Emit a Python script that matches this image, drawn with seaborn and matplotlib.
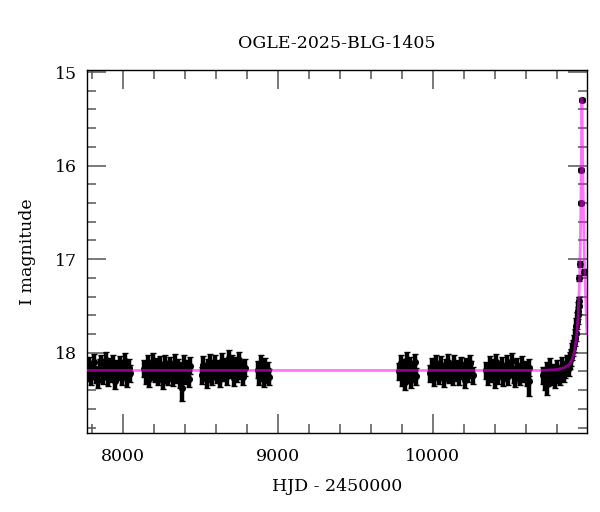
import matplotlib.pyplot as plt
import pandas as pd
import seaborn as sns
from matplotlib.ticker import MultipleLocator

# OGLE photometry (HJD - 2450000, I mag)
s1_t = [7772, 7783, 7794, 7805, 7816, 7827, 7838, 7849, 7860, 7871, 7882, 7893, 7904,
        7915, 7926, 7937, 7948, 7959, 7970, 7981, 7992, 8003, 8014, 8025, 8036, 8047]
s1_m = [18.21, 18.14, 18.26, 18.18, 18.10, 18.23, 18.29, 18.16, 18.12, 18.24, 18.19, 18.08, 18.27,
        18.15, 18.22, 18.11, 18.30, 18.17, 18.20, 18.13, 18.25, 18.18, 18.09, 18.28, 18.16, 18.22]

s2_t = [8138, 8149, 8160, 8171, 8182, 8193, 8204, 8215, 8226, 8237, 8248, 8259, 8270, 8281,
        8292, 8303, 8314, 8325, 8336, 8347, 8358, 8369, 8380, 8391, 8402, 8413, 8424, 8436]
s2_m = [18.17, 18.24, 18.12, 18.28, 18.19, 18.09, 18.22, 18.15, 18.26, 18.13, 18.20, 18.30, 18.11, 18.18,
        18.25, 18.14, 18.21, 18.27, 18.10, 18.23, 18.16, 18.29, 18.19, 18.12, 18.24, 18.17, 18.28, 18.14]

s3_t = [8508, 8519, 8530, 8541, 8552, 8563, 8574, 8585, 8596, 8607, 8618, 8629, 8640,
        8651, 8662, 8673, 8684, 8695, 8706, 8717, 8728, 8739, 8750, 8761, 8772, 8790]
s3_m = [18.24, 18.13, 18.20, 18.29, 18.16, 18.10, 18.26, 18.19, 18.12, 18.23, 18.17, 18.28, 18.09,
        18.21, 18.15, 18.25, 18.06, 18.18, 18.11, 18.27, 18.14, 18.22, 18.08, 18.19, 18.26, 18.16]

s4_t = [8872, 8881, 8890, 8899, 8908, 8917, 8926, 8935, 8943]
s4_m = [18.18, 18.25, 18.12, 18.21, 18.28, 18.15, 18.23, 18.19, 18.26]

s5_t = [9782, 9792, 9802, 9812, 9822, 9832, 9842, 9852, 9862, 9872, 9882, 9890]
s5_m = [18.20, 18.11, 18.27, 18.16, 18.31, 18.08, 18.23, 18.14, 18.29, 18.18, 18.10, 18.25]

s6_t = [9985, 9996, 10007, 10018, 10029, 10040, 10051, 10062, 10073, 10084, 10095, 10106, 10117,
        10128, 10139, 10150, 10161, 10172, 10183, 10194, 10205, 10216, 10227, 10238, 10249, 10262]
s6_m = [18.22, 18.15, 18.27, 18.11, 18.19, 18.24, 18.13, 18.20, 18.28, 18.16, 18.10, 18.23, 18.18,
        18.26, 18.12, 18.21, 18.17, 18.25, 18.14, 18.19, 18.29, 18.15, 18.22, 18.11, 18.18, 18.24]

s7_t = [10345, 10356, 10367, 10378, 10389, 10400, 10411, 10422, 10433, 10444, 10455, 10466, 10477,
        10488, 10499, 10510, 10521, 10532, 10543, 10554, 10565, 10576, 10587, 10598, 10609, 10620]
s7_m = [18.19, 18.26, 18.13, 18.22, 18.16, 18.29, 18.10, 18.24, 18.18, 18.14, 18.27, 18.21, 18.12,
        18.25, 18.17, 18.09, 18.23, 18.28, 18.15, 18.20, 18.26, 18.13, 18.22, 18.18, 18.27, 18.16]

s8_t = [10712, 10723, 10734, 10745, 10756, 10767, 10778, 10789, 10800, 10811, 10822, 10833, 10844, 10855,
        10866, 10877, 10886, 10894, 10901, 10907, 10912, 10917, 10922, 10927, 10931, 10935, 10939, 10943]
s8_m = [18.24, 18.31, 18.19, 18.27, 18.15, 18.25, 18.21, 18.29, 18.17, 18.23, 18.26, 18.14, 18.22, 18.18,
        18.12, 18.16, 18.08, 18.05, 17.99, 17.95, 17.90, 17.84, 17.79, 17.72, 17.66, 17.60, 17.55, 17.50]

base_err = 0.09

# bright points near the peak
peak_t = [10945, 10946, 10950, 10955, 10958, 10962, 10976]
peak_m = [17.45, 17.20, 17.05, 16.40, 16.05, 15.30, 17.14]
peak_e = [0.04, 0.03, 0.03, 0.02, 0.02, 0.02, 0.03]

# a few faint points with big error bars
out_t = [8380, 10620, 10735]
out_m = [18.38, 18.30, 18.33]
out_e = [0.14, 0.16, 0.12]

# model curve
model_t = [7765, 10700, 10800, 10850, 10880, 10900, 10915, 10928, 10938, 10946, 10952, 10956,
           10959, 10961, 10962, 10963, 10965, 10968, 10972, 10978, 10985, 10995]
model_m = [18.19, 18.19, 18.18, 18.16, 18.13, 18.07, 17.98, 17.82, 17.60, 17.28, 16.85, 16.40,
           15.90, 15.50, 15.28, 15.33, 15.60, 16.00, 16.50, 16.95, 17.35, 17.80]

# build one table
parts = []
for t, m in [(s1_t, s1_m), (s2_t, s2_m), (s3_t, s3_m), (s4_t, s4_m),
             (s5_t, s5_m), (s6_t, s6_m), (s7_t, s7_m), (s8_t, s8_m)]:
    parts.append(pd.DataFrame({'t': t, 'm': m, 'e': base_err}))
parts.append(pd.DataFrame({'t': peak_t, 'm': peak_m, 'e': peak_e}))
parts.append(pd.DataFrame({'t': out_t, 'm': out_m, 'e': out_e}))
df = pd.concat(parts, ignore_index=True)

sns.set_style('ticks')
plt.rcParams['font.family'] = ['DejaVu Serif']
plt.rcParams['text.color'] = 'black'
plt.rcParams['axes.labelcolor'] = 'black'
plt.rcParams['xtick.labelcolor'] = 'black'
plt.rcParams['ytick.labelcolor'] = 'black'

fig = plt.figure(figsize=(6, 5.12), dpi=100)
ax = fig.add_axes([0.145, 0.154, 0.833, 0.709])

ax.errorbar(df['t'], df['m'], yerr=df['e'], fmt='none', ecolor='black',
            elinewidth=3.2, capsize=2.5, capthick=1.0, zorder=2)
sns.scatterplot(data=df, x='t', y='m', color='black', s=26, linewidth=0, ax=ax, zorder=3)
sns.lineplot(x=model_t, y=model_m, sort=False, estimator=None, color='magenta',
             alpha=0.55, lw=2, ax=ax, zorder=4)

ax.set_xlim(7768, 10994)
ax.set_ylim(18.86, 14.98)

ax.xaxis.set_major_locator(MultipleLocator(1000))
ax.xaxis.set_minor_locator(MultipleLocator(200))
ax.yaxis.set_major_locator(MultipleLocator(1))
ax.yaxis.set_minor_locator(MultipleLocator(0.2))
ax.tick_params(which='both', direction='in', top=True, right=True, color='#555555', width=1.1)
ax.tick_params(which='major', length=14)
ax.tick_params(which='minor', length=6.5)
ax.tick_params(axis='x', labelsize=12.5, pad=11)
ax.tick_params(axis='y', labelsize=12.5, pad=7)
for s in ax.spines.values():
    s.set_color('black')
    s.set_linewidth(1.0)

ax.set_title('OGLE-2025-BLG-1405', fontsize=12.5, pad=16, color='black')
ax.set_xlabel('HJD - 2450000', fontsize=12.5, labelpad=9)
ax.set_ylabel('I magnitude', fontsize=12.5, labelpad=14)

fig.savefig('out.png', dpi=100)
